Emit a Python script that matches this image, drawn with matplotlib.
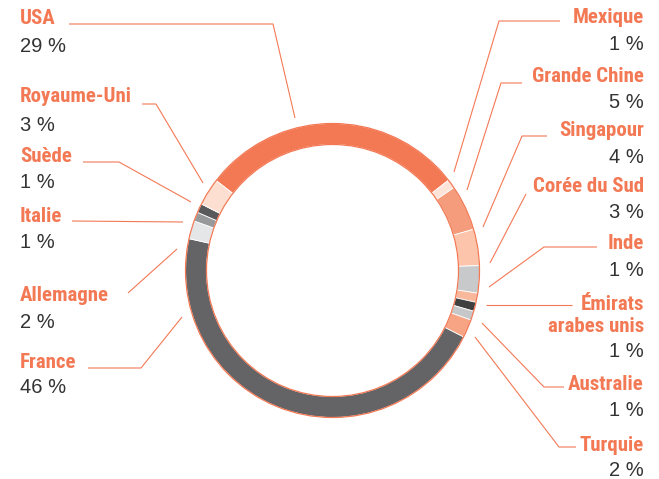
import matplotlib
matplotlib.use("Agg")
import matplotlib.pyplot as plt
from matplotlib.patches import Circle

# parts of the ring, clockwise from the top-left (USA)
pays = ["USA", "Mexique", "Grande Chine", "Singapour", "Corée du Sud", "Inde",
        "Émirats\narabes unis", "Australie", "Turquie", "France", "Allemagne",
        "Italie", "Suède", "Royaume-Uni"]
parts = [29, 1, 5, 4, 3, 1, 1, 1, 2, 46, 2, 1, 1, 3]
couleurs = ["#F37955", "#FDE3D8", "#F59C7C", "#FCC4AA", "#C8C9CA", "#F9B89C",
            "#404041", "#C6C7C8", "#F7A485", "#646466", "#E5E6E7",
            "#98999B", "#59595B", "#FDDFD2"]

ORANGE = "#F37955"
W, H = 659, 479

fig = plt.figure(figsize=(W / 100, H / 100), dpi=100)
ax = fig.add_axes([0, 0, 1, 1])

cx, cy, r = 332.5, H - 270.5, 147
ax.pie(parts, colors=couleurs, startangle=142.3, counterclock=False,
       center=(cx, cy), radius=r,
       wedgeprops=dict(width=21, edgecolor="white", linewidth=0.6))
ax.add_patch(Circle((cx, cy), r, fill=False, edgecolor=ORANGE, lw=0.9))
ax.add_patch(Circle((cx, cy), r - 21, fill=False, edgecolor=ORANGE, lw=0.9))
ax.set_xlim(0, W)
ax.set_ylim(0, H)
ax.axis("off")

# labels: (name, name baseline, value baseline) in pixels from the top
gauche = [("USA", 24, 51.5), ("Royaume-Uni", 102, 130.5), ("Suède", 162, 188),
          ("Italie", 222, 248), ("Allemagne", 301, 328), ("France", 368, 393)]
droite = [("Mexique", 23, 50), ("Grande Chine", 81.5, 108), ("Singapour", 135.5, 162.5),
          ("Corée du Sud", 191.5, 218), ("Inde", 249, 276),
          ("Émirats\narabes unis", 331.5, 357), ("Australie", 390.5, 416.5),
          ("Turquie", 451, 476)]

nom_font = dict(family=["Roboto Condensed", "Roboto", "DejaVu Sans"], weight="bold",
                size=15, color=ORANGE)
val_font = dict(family=["Liberation Sans", "DejaVu Sans"], size=14.5, color="#333333")

for nom, yb, yv in gauche:
    v = parts[pays.index(nom)]
    ax.text(20, H - yb, nom, ha="left", va="baseline", **nom_font)
    ax.text(20, H - yv, f"{v} %", ha="left", va="baseline", **val_font)

for nom, yb, yv in droite:
    v = parts[pays.index(nom)]
    ax.text(644, H - yb, nom, ha="right", va="baseline", linespacing=1.2, **nom_font)
    ax.text(644, H - yv, f"{v} %", ha="right", va="baseline", **val_font)

# leader lines, pixel coordinates
traits = [
    [(69, 24), (273, 24), (295, 118)],
    [(142, 104), (156, 104), (203, 183)],
    [(83, 162), (119, 162), (191, 202)],
    [(72, 221), (183, 222)],
    [(128, 293), (177, 249)],
    [(88, 368), (141, 368), (182, 317)],
    [(560, 21), (499, 21), (454, 172)],
    [(522, 83), (501, 83), (467, 190)],
    [(547, 136), (522, 136), (483, 227)],
    [(526, 194), (490, 263)],
    [(597, 247), (544, 247), (489, 287)],
    [(572, 305), (486, 305)],
    [(564, 387), (544, 387), (482, 323)],
    [(576, 447), (559, 447), (475, 337)],
]
for t in traits:
    xs = [p[0] for p in t]
    ys = [H - p[1] for p in t]
    ax.plot(xs, ys, color=ORANGE, lw=0.8, solid_capstyle="butt")

fig.savefig("out.png", dpi=100)
